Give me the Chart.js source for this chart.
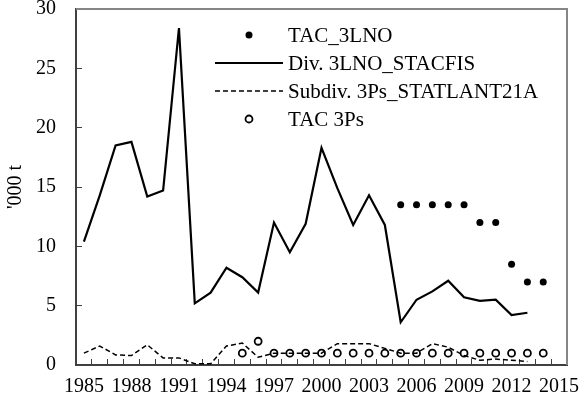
<!DOCTYPE html>
<html>
<head>
<meta charset="utf-8">
<script src="https://cdn.jsdelivr.net/npm/chart.js@4"></script>
<style>
  html, body { margin: 0; padding: 0; background: #fff; }
  canvas { display: block; }
</style>
</head>
<body>
<canvas id="c" width="580" height="402"></canvas>
<script>
// ---- data ----
const years = [];
for (let y = 1985; y <= 2015; y++) years.push(String(y));

const tac3LNO = [null, null, null, null, null, null, null, null, null, null,
  null, null, null, null, null, null, null, null, null, null,
  13.5, 13.5, 13.5, 13.5, 13.5, 12.0, 12.0, 8.5, 7.0, 7.0, null];

const div3LNO = [10.4, 14.3, 18.5, 18.8, 14.2, 14.7, 28.4, 5.2, 6.1, 8.2,
  7.4, 6.1, 12.0, 9.5, 11.9, 18.3, 14.9, 11.8, 14.3, 11.8,
  3.6, 5.5, 6.2, 7.1, 5.7, 5.4, 5.5, 4.2, 4.4, null, null];

const subdiv3Ps = [1.0, 1.6, 0.85, 0.8, 1.7, 0.6, 0.6, 0.1, 0.1, 1.6,
  1.85, 0.65, 1.0, 1.0, 1.0, 1.0, 1.8, 1.8, 1.8, 1.4,
  1.0, 1.0, 1.8, 1.5, 0.8, 0.4, 0.5, 0.4, 0.3, null, null];

const tac3Ps = [null, null, null, null, null, null, null, null, null, null,
  1.0, 2.0, 1.0, 1.0, 1.0, 1.0, 1.0, 1.0, 1.0, 1.0,
  1.0, 1.0, 1.0, 1.0, 1.0, 1.0, 1.0, 1.0, 1.0, 1.0, null];

const seriesNames = ['TAC_3LNO', 'Div. 3LNO_STACFIS', 'Subdiv. 3Ps_STATLANT21A', 'TAC 3Ps'];
const yTitle = "'000 t";

const FONT = 'Liberation Serif, "Times New Roman", serif';

const framePlugin = {
  id: 'frame',
  beforeDatasetsDraw(chart) {
    const { ctx, chartArea: a } = chart;
    ctx.save();
    ctx.strokeStyle = '#868686';
    ctx.lineWidth = 2;
    ctx.beginPath();
    ctx.moveTo(a.left, a.top);
    ctx.lineTo(a.right, a.top);
    ctx.lineTo(a.right, a.bottom);
    ctx.stroke();
    ctx.restore();
  }
};

const legendPlugin = {
  id: 'insideLegend',
  afterDatasetsDraw(chart) {
    const { ctx, chartArea: a } = chart;
    const x0 = a.left + 139, x1 = a.left + 207, xm = (x0 + x1) / 2, xt = a.left + 212;
    ctx.save();
    chart.data.datasets.forEach((ds, i) => {
      const y = a.top + 26 + 28 * i;
      if (ds.showLine === false) {
        ctx.beginPath();
        ctx.arc(xm, y, ds.pointRadius, 0, Math.PI * 2);
        ctx.lineWidth = ds.pointBorderWidth;
        ctx.strokeStyle = ds.pointBorderColor;
        ctx.fillStyle = ds.pointBackgroundColor;
        ctx.fill();
        if (ds.pointBorderWidth > 0) ctx.stroke();
      } else {
        ctx.beginPath();
        ctx.setLineDash(ds.borderDash || []);
        ctx.lineWidth = ds.borderWidth;
        ctx.strokeStyle = ds.borderColor;
        ctx.moveTo(x0, y);
        ctx.lineTo(x1, y);
        ctx.stroke();
        ctx.setLineDash([]);
      }
      ctx.fillStyle = '#000';
      ctx.font = '21px ' + FONT;
      ctx.textBaseline = 'middle';
      ctx.textAlign = 'left';
      ctx.fillText(ds.label, xt, y + 1);
    });
    ctx.restore();
  }
};

new Chart(document.getElementById('c'), {
  type: 'line',
  data: {
    labels: years,
    datasets: [
      {
        label: seriesNames[0], data: tac3LNO, showLine: false,
        pointRadius: 3.5, pointBorderWidth: 0, pointBackgroundColor: '#000',
        pointBorderColor: '#000', borderColor: '#000', backgroundColor: '#000'
      },
      {
        label: seriesNames[1], data: div3LNO, borderColor: '#000', borderWidth: 2.2,
        pointRadius: 0, tension: 0, spanGaps: false
      },
      {
        label: seriesNames[2], data: subdiv3Ps, borderColor: '#000', borderWidth: 1.5,
        borderDash: [5, 3], pointRadius: 0, tension: 0
      },
      {
        label: seriesNames[3], data: tac3Ps, showLine: false,
        pointRadius: 3.5, pointBorderWidth: 1.8, pointBackgroundColor: 'rgba(0,0,0,0)',
        pointBorderColor: '#000', borderColor: '#000'
      }
    ]
  },
  options: {
    responsive: false,
    animation: false,
    events: [],
    layout: { padding: { top: 9, right: 13, left: 0, bottom: 0 } },
    plugins: { legend: { display: false }, tooltip: { enabled: false } },
    scales: {
      x: {
        type: 'category',
        offset: true,
        grid: { offset: true, drawOnChartArea: false, drawTicks: true, tickLength: -6, color: '#404040', lineWidth: 1 },
        border: { color: '#404040', width: 2 },
        ticks: {
          autoSkip: false, maxRotation: 0, minRotation: 0, padding: 16,
          color: '#000', font: { family: FONT, size: 20 },
          callback: function (v, i) { return (i % 3 === 0) ? this.getLabelForValue(v) : ''; }
        },
        afterFit(s) { s.height = 37; s.paddingLeft = 0; s.paddingRight = 0; s.paddingTop = 0; s.paddingBottom = 0; }
      },
      y: {
        min: 0, max: 30,
        grid: { drawOnChartArea: false, drawTicks: true, tickLength: -6, color: '#404040', lineWidth: 1 },
        border: { color: '#404040', width: 2 },
        ticks: { stepSize: 5, padding: 26, color: '#000', font: { family: FONT, size: 20 } },
        title: { display: true, text: yTitle, color: '#000', font: { family: FONT, size: 20 }, padding: { top: 4, bottom: 0 } },
        afterFit(s) { s.width = 76; s.paddingTop = 0; s.paddingBottom = 0; s.paddingLeft = 0; s.paddingRight = 0; }
      }
    }
  },
  plugins: [framePlugin, legendPlugin]
});
</script>
</body>
</html>
